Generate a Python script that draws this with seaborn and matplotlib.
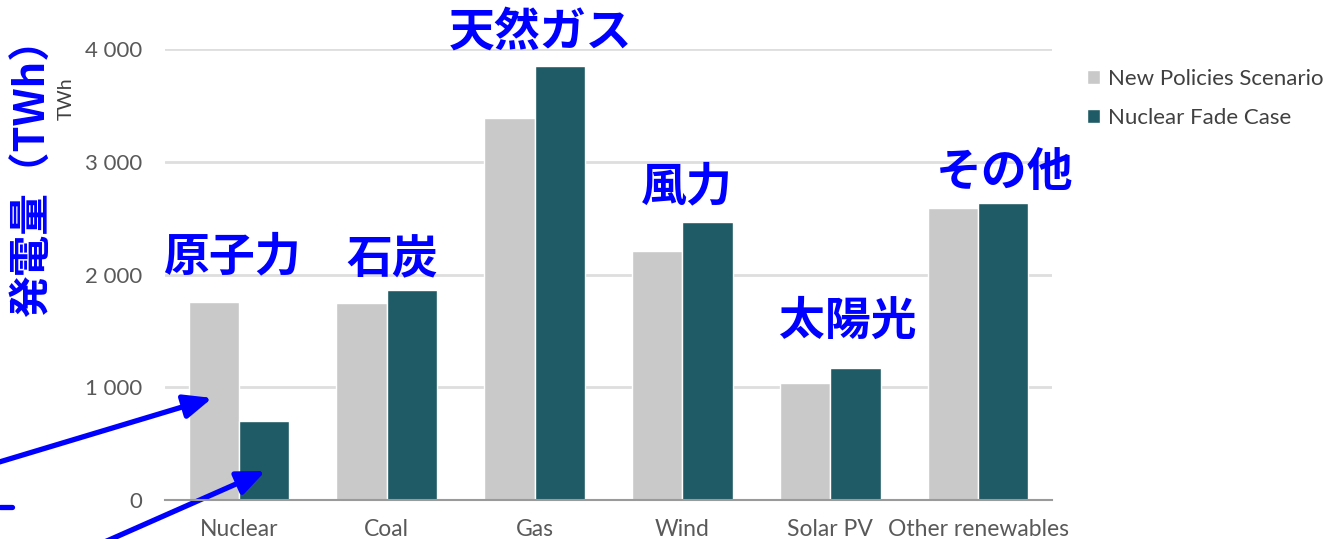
import matplotlib
matplotlib.use("Agg")
import matplotlib.pyplot as plt
from matplotlib.lines import Line2D
import seaborn as sns
import pandas as pd

# Electricity generation by source (TWh)
sources = ["Nuclear", "Coal", "Gas", "Wind", "Solar PV", "Other renewables"]
new_policies = [1760, 1750, 3390, 2210, 1040, 2590]
nuclear_fade = [700, 1860, 3850, 2470, 1170, 2630]
scenarios = ["New Policies Scenario", "Nuclear Fade Case"]
jp_labels = ["原子力", "石炭", "天然ガス", "風力", "太陽光", "その他"]
yticks = [0, 1000, 2000, 3000, 4000]

df = pd.DataFrame({
    "source": sources * 2,
    "twh": new_policies + nuclear_fade,
    "scenario": [scenarios[0]] * len(sources) + [scenarios[1]] * len(sources),
})

sns.set_theme(style="white")
plt.rcParams["font.family"] = ["Lato", "DejaVu Sans"]

GRAY = "#c9c9c9"
TEAL = "#1f5b66"
BLUE = "#0000ff"
TICK = "#595959"
JP = ["Noto Sans CJK JP", "DejaVu Sans"]

fig = plt.figure(figsize=(13.27, 5.39), dpi=100)
ax = fig.add_axes([0.1243, 0.0724, 0.6685, 0.8366])

sns.barplot(data=df, x="source", y="twh", hue="scenario", order=sources,
            hue_order=scenarios, palette=[GRAY, TEAL], saturation=1,
            width=0.68, ax=ax, zorder=3)

ax.set_xlim(-0.5, len(sources) - 0.5)
ax.set_ylim(0, 4000)
ax.set_yticks(yticks)
ax.set_yticklabels([f"{v:,}".replace(",", " ") for v in yticks])
ax.yaxis.grid(True, color="#dedede", lw=2, zorder=0)
ax.set_axisbelow(True)
for s in ["top", "right", "left"]:
    ax.spines[s].set_visible(False)
ax.spines["bottom"].set_color("#9a9a9a")
ax.spines["bottom"].set_linewidth(1.5)
ax.spines["bottom"].set_zorder(4)
ax.tick_params(axis="y", length=0, pad=16, labelsize=16, labelcolor=TICK)
ax.tick_params(axis="x", length=0, pad=14, labelsize=16.5, labelcolor=TICK)
ax.set_xlabel("")
ax.set_ylabel("")

# Legend to the right of the plot
leg = ax.legend(loc="upper left", bbox_to_anchor=(1.017, 1.0), frameon=False,
                fontsize=16, handlelength=0.6, handleheight=0.6,
                handletextpad=0.35, labelspacing=0.85, labelcolor="#404040")

# Japanese source names above the bars
jp_pos = [(-0.05, 2150), (1.04, 2130), (2.04, 4150),
          (3.03, 2770), (4.12, 1580), (5.18, 2900)]
for text, (x, y) in zip(jp_labels, jp_pos):
    ax.text(x, y, text, ha="center", va="center", fontsize=33,
            fontweight="bold", color=BLUE, family=JP, clip_on=False)

# Axis titles
fig.text(33 / 1327, 1 - 168 / 539, "発電量（TWh）", rotation=90, ha="center",
         va="center", fontsize=30, fontweight="bold", color=BLUE, family=JP)
fig.text(66 / 1327, 1 - 99 / 539, "TWh", rotation=90, ha="center",
         va="center", fontsize=14, color="#404040")

# Arrows pointing at the nuclear bars
arrow = dict(arrowstyle="-|>,head_length=1.4,head_width=0.6", color=BLUE,
             lw=3.8, shrinkA=0, shrinkB=0)
ax.annotate("", xy=(-0.18, 905), xycoords="data", xytext=(-4, 76),
            textcoords="figure pixels", arrowprops=arrow, annotation_clip=False)
ax.annotate("", xy=(0.18, 257), xycoords="data", xytext=(100, -5),
            textcoords="figure pixels", arrowprops=arrow, annotation_clip=False)
fig.add_artist(Line2D([0, 12 / 1327], [1 - 507 / 539] * 2, color=BLUE, lw=3.8,
                      transform=fig.transFigure))

fig.savefig("out.png", dpi=100)
